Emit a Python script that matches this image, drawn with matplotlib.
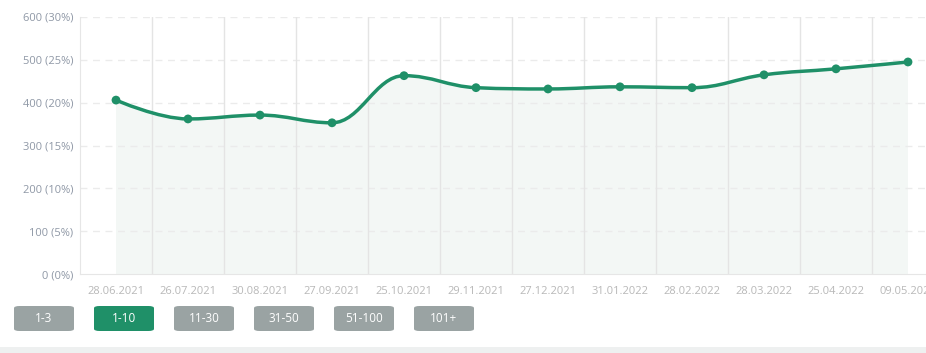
import matplotlib.pyplot as plt
from matplotlib.path import Path
from matplotlib.patches import PathPatch, FancyBboxPatch, Rectangle
import numpy as np

plt.rcParams['font.family'] = ['Open Sans', 'DejaVu Sans']

dates = ["28.06.2021", "26.07.2021", "30.08.2021", "27.09.2021", "25.10.2021",
         "29.11.2021", "27.12.2021", "31.01.2022", "28.02.2022", "28.03.2022",
         "25.04.2022", "09.05.2022"]
values = [406, 362, 371, 353, 463, 435, 432, 437, 435, 465, 479, 495]
yticks = [0, 100, 200, 300, 400, 500, 600]
ytick_labels = ["0 (0%)", "100 (5%)", "200 (10%)", "300 (15%)", "400 (20%)",
                "500 (25%)", "600 (30%)"]
buttons = ["1-3", "1-10", "11-30", "31-50", "51-100", "101+"]
active = "1-10"

GREEN = "#1f9068"
W, H = 926, 353

fig = plt.figure(figsize=(W / 100, H / 100), dpi=100)
ax = fig.add_axes([80 / W, 1 - 274 / H, 864 / W, 257 / H])
ax.set_xlim(-0.5, len(dates) - 0.5)
ax.set_ylim(0, 600)

x = np.arange(len(values))
y = np.array(values, dtype=float)


# spline path like the charting lib (bezier control points, smoothing 1.5)
def spline_path(x, y, smoothing=1.5):
    denom = smoothing + 1
    verts = [(x[0], y[0])]
    codes = [Path.MOVETO]
    ctrl = []
    n = len(x)
    for i in range(n):
        if i == 0 or i == n - 1:
            ctrl.append(((x[i], y[i]), (x[i], y[i])))
            continue
        lx = (smoothing * x[i] + x[i - 1]) / denom
        ly = (smoothing * y[i] + y[i - 1]) / denom
        rx = (smoothing * x[i] + x[i + 1]) / denom
        ry = (smoothing * y[i] + y[i + 1]) / denom
        if rx != lx:
            corr = (ry - ly) * (rx - x[i]) / (rx - lx) + y[i] - ry
            ly += corr
            ry += corr
        if ly > y[i - 1] and ly > y[i]:
            ly = max(y[i - 1], y[i]); ry = 2 * y[i] - ly
        elif ly < y[i - 1] and ly < y[i]:
            ly = min(y[i - 1], y[i]); ry = 2 * y[i] - ly
        if ry > y[i + 1] and ry > y[i]:
            ry = max(y[i + 1], y[i]); ly = 2 * y[i] - ry
        elif ry < y[i + 1] and ry < y[i]:
            ry = min(y[i + 1], y[i]); ly = 2 * y[i] - ry
        ctrl.append(((lx, ly), (rx, ry)))
    for i in range(1, n):
        verts += [ctrl[i - 1][1], ctrl[i][0], (x[i], y[i])]
        codes += [Path.CURVE4] * 3
    return verts, codes


verts, codes = spline_path(x, y)
fill_verts = verts + [(x[-1], 0), (x[0], 0), (x[0], y[0])]
fill_codes = codes + [Path.LINETO, Path.LINETO, Path.CLOSEPOLY]
ax.add_patch(PathPatch(Path(fill_verts, fill_codes), facecolor="#f3f7f5",
                       edgecolor="none", zorder=1))
ax.add_patch(PathPatch(Path(verts, codes), facecolor="none", edgecolor=GREEN,
                       lw=2.5, zorder=3, capstyle="round"))
ax.scatter(x, y, s=40, color=GREEN, zorder=4, edgecolors="none")

# grid, drawn over the fill
for yt in yticks[1:]:
    ax.axhline(yt, color="#ebebeb", lw=1, ls=(0, (5, 4)), zorder=2)
for b in np.arange(0.5, len(dates) - 1, 1.0):
    ax.axvline(b, color="#e4e4e4", lw=1, zorder=2)

for s in ["top", "right"]:
    ax.spines[s].set_visible(False)
ax.spines["left"].set_color("#e6e6e6")
ax.spines["bottom"].set_color("#e6e6e6")

ax.set_yticks(yticks)
ax.set_yticklabels(ytick_labels, color="#8f98a6", fontsize=8)
ax.set_xticks(x)
ax.set_xticklabels(dates, color="#b8b8b8", fontsize=8)
ax.tick_params(axis="both", length=0, pad=5)
ax.tick_params(axis="x", pad=9)

# range buttons
for i, lab in enumerate(buttons):
    bx = 14 + 80 * i
    col = GREEN if lab == active else "#9aa3a3"
    fig.patches.append(FancyBboxPatch((bx / W, 1 - 331 / H), 60 / W, 25 / H,
                                      boxstyle="round,pad=0,rounding_size=0.006",
                                      transform=fig.transFigure,
                                      facecolor=col, edgecolor="none"))
    fig.text((bx + 30) / W, 1 - 318.5 / H, lab, color="white", fontsize=8.5,
             ha="center", va="center")

fig.patches.append(Rectangle((0, 0), 1, 6 / H, transform=fig.transFigure,
                             facecolor="#eef0f0", edgecolor="none"))

fig.savefig("out.png", dpi=100)
